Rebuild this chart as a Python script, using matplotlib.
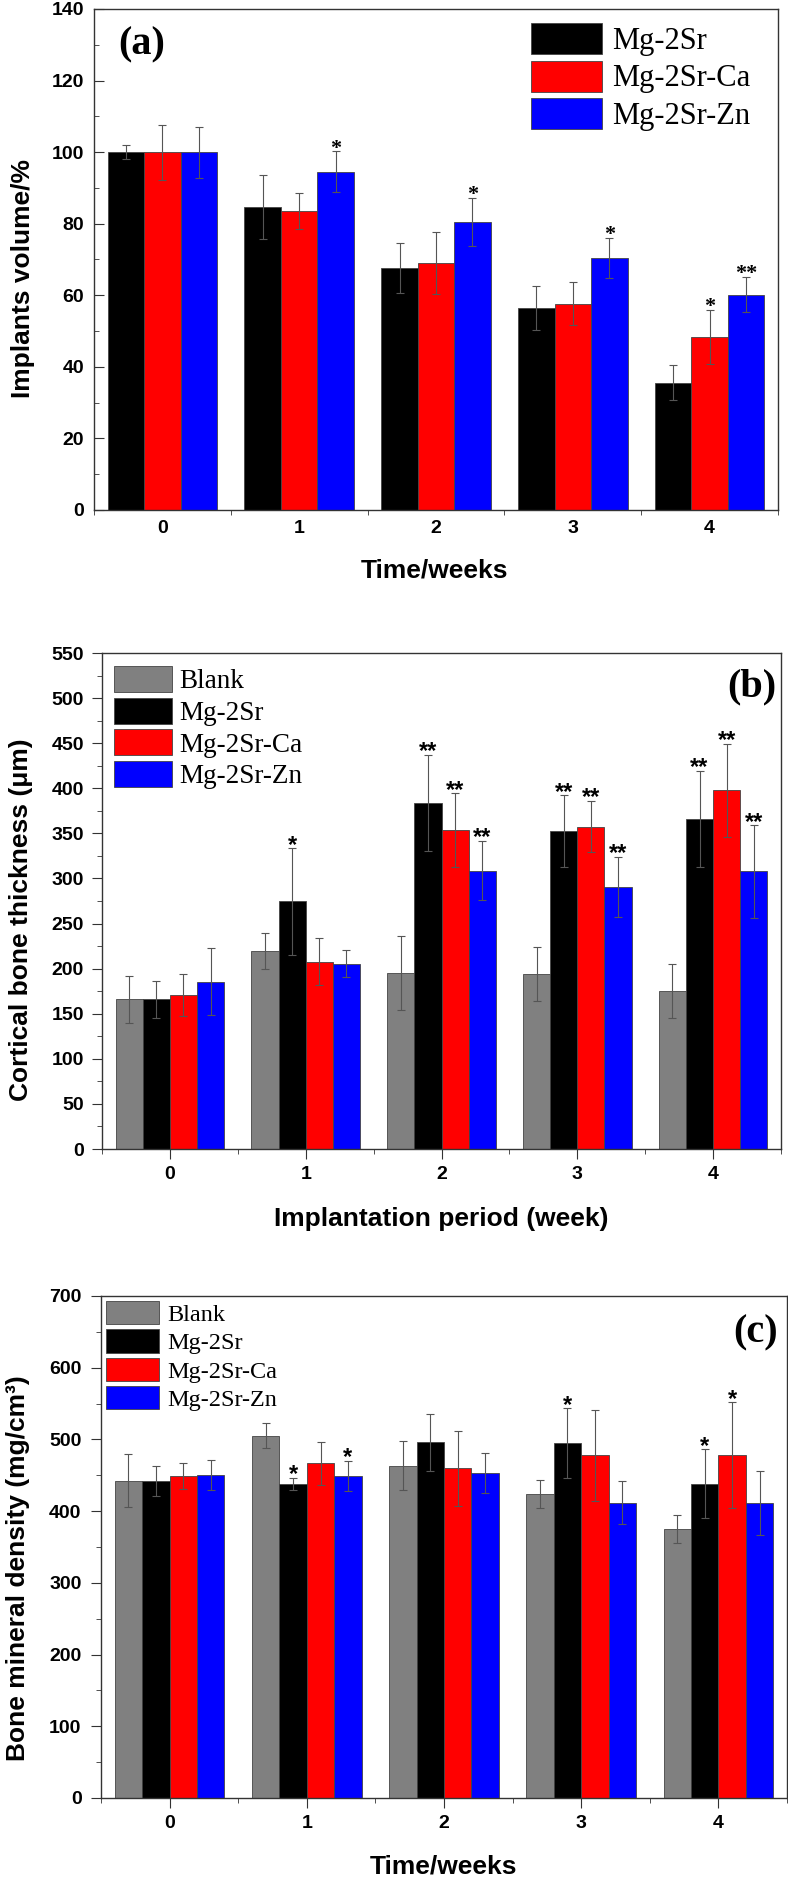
import numpy as np
import matplotlib
matplotlib.use('Agg')
import matplotlib.pyplot as plt
from matplotlib.ticker import MultipleLocator

weeks = ['0', '1', '2', '3', '4']

# (a) implant volume, %
vol_labels = ['Mg-2Sr', 'Mg-2Sr-Ca', 'Mg-2Sr-Zn']
vol_mg2sr = [100, 84.7, 67.5, 56.4, 35.5]
vol_mg2sr_err = [2, 9, 7, 6.1, 4.9]
vol_ca = [100, 83.6, 69, 57.6, 48.3]
vol_ca_err = [7.7, 5.1, 8.7, 6, 7.5]
vol_zn = [100, 94.5, 80.5, 70.4, 60.2]
vol_zn_err = [7.1, 5.7, 6.6, 5.7, 5]
vol_mg2sr_sig = ['', '', '', '', '']
vol_ca_sig = ['', '', '', '', '*']
vol_zn_sig = ['', '*', '*', '*', '**']

# (b) cortical bone thickness, um
grp_labels = ['Blank', 'Mg-2Sr', 'Mg-2Sr-Ca', 'Mg-2Sr-Zn']
ct_blank = [165.8, 219.7, 195.2, 193.9, 175.4]
ct_blank_err = [26, 20, 41, 30, 30]
ct_mg2sr = [165.8, 274.6, 383.8, 352.2, 366.2]
ct_mg2sr_err = [21, 59, 53.5, 40, 53]
ct_ca = [171, 207.9, 353.5, 357.5, 397.8]
ct_ca_err = [23, 26, 41, 28.5, 51.8]
ct_zn = [185.5, 205.3, 308.8, 290.8, 307.9]
ct_zn_err = [37, 15, 33, 33, 51.3]
ct_blank_sig = ['', '', '', '', '']
ct_mg2sr_sig = ['', '*', '**', '**', '**']
ct_ca_sig = ['', '', '**', '**', '**']
ct_zn_sig = ['', '', '**', '**', '**']

# (c) bone mineral density, mg/cm3
bmd_blank = [442.2, 505.4, 463.3, 424.1, 375.3]
bmd_blank_err = [37, 18, 34, 20, 20]
bmd_mg2sr = [442.2, 438, 495.8, 494.6, 438]
bmd_mg2sr_err = [21, 8.4, 40, 49, 48]
bmd_ca = [448.8, 466.9, 459.6, 477.7, 477.7]
bmd_ca_err = [18, 30, 52, 64, 74]
bmd_zn = [450, 449.4, 453, 412, 411.4]
bmd_zn_err = [21, 21, 28, 30, 44]
bmd_blank_sig = ['', '', '', '', '']
bmd_mg2sr_sig = ['', '*', '', '*', '*']
bmd_ca_sig = ['', '', '', '', '*']
bmd_zn_sig = ['', '*', '', '', '']

SANS = 'Liberation Sans'
SERIF = 'Liberation Serif'
plt.rcParams['font.family'] = [SANS, 'DejaVu Sans']
W, H = 788, 1878


def rect(l, r, t, b):
    return [l / W, (H - b) / H, (r - l) / W, (b - t) / H]


def bars(ax, vals, errs, sigs, colors, labels, star_font, star_size, star_off):
    n = len(vals)
    w = 0.8 / n
    x = np.arange(len(weeks))
    for i in range(n):
        xi = x + (i - (n - 1) / 2) * w
        ax.bar(xi, vals[i], w, yerr=errs[i], color=colors[i], edgecolor='#444444',
               linewidth=0.6, label=labels[i], zorder=2,
               error_kw=dict(ecolor='#555555', elinewidth=0.8, capsize=3, capthick=0.8))
        for xx, v, e, s in zip(xi, vals[i], errs[i], sigs[i]):
            if s:
                ax.annotate(s, (xx, v + e), xytext=(0, star_off), textcoords='offset points',
                            ha='center', va='baseline', fontsize=star_size,
                            family=star_font, fontweight='bold')
    ax.set_xticks(x)
    ax.set_xticklabels(weeks)
    ax.xaxis.set_minor_locator(MultipleLocator(0.5))
    ax.set_xlim(-0.5, 4.5)
    for sp in ax.spines.values():
        sp.set_color('#333333')
        sp.set_linewidth(1.0)
    for lab in ax.get_xticklabels() + ax.get_yticklabels():
        lab.set_fontweight('bold')


fig = plt.figure(figsize=(W / 100, H / 100), dpi=100)

# ---------- (a)
ax = fig.add_axes(rect(94, 778, 9, 510))
bars(ax, [vol_mg2sr, vol_ca, vol_zn], [vol_mg2sr_err, vol_ca_err, vol_zn_err],
     [vol_mg2sr_sig, vol_ca_sig, vol_zn_sig], ['black', '#ff0000', '#0000ff'],
     vol_labels, SERIF, 16, -1.5)
ax.set_ylim(0, 140)
ax.yaxis.set_major_locator(MultipleLocator(20))
ax.yaxis.set_minor_locator(MultipleLocator(10))
ax.tick_params(which='both', direction='in', labelsize=14, color='#333333')
ax.tick_params(which='major', length=7)
ax.tick_params(which='minor', length=3.5)
ax.tick_params(axis='x', which='minor', direction='out')
ax.tick_params(axis='x', pad=7)
ax.tick_params(axis='y', pad=7)
ax.set_ylabel('Implants volume/%', fontsize=19, fontweight='bold', va='center')
ax.yaxis.set_label_coords(-0.104, 0.463)
ax.set_xlabel('Time/weeks', fontsize=19, fontweight='bold', va='center')
ax.xaxis.set_label_coords(0.4985, -0.12)
ax.legend(loc='upper left', bbox_to_anchor=(0.639, 0.972), frameon=False,
          prop={'family': SERIF, 'size': 22}, handlelength=2.32, handleheight=1.18,
          labelspacing=0.16, handletextpad=0.33, borderpad=0, borderaxespad=0)
ax.text(0.036, 0.928, '(a)', transform=ax.transAxes, ha='left', va='center',
        family=SERIF, fontweight='bold', fontsize=29)

# ---------- (b)
ax = fig.add_axes(rect(102, 781, 653, 1149))
bars(ax, [ct_blank, ct_mg2sr, ct_ca, ct_zn],
     [ct_blank_err, ct_mg2sr_err, ct_ca_err, ct_zn_err],
     [ct_blank_sig, ct_mg2sr_sig, ct_ca_sig, ct_zn_sig],
     ['#808080', 'black', '#ff0000', '#0000ff'], grp_labels, SANS, 17, -2.5)
ax.set_ylim(0, 550)
ax.yaxis.set_major_locator(MultipleLocator(50))
ax.yaxis.set_minor_locator(MultipleLocator(25))
ax.tick_params(which='both', direction='out', labelsize=14, color='#333333')
ax.tick_params(which='major', length=7)
ax.tick_params(which='minor', length=3.5)
ax.tick_params(axis='x', pad=5)
ax.tick_params(axis='y', pad=6)
ax.set_ylabel('Cortical bone thickness (μm)', fontsize=19, fontweight='bold', va='center')
ax.yaxis.set_label_coords(-0.1186, 0.463)
ax.set_xlabel('Implantation period (week)', fontsize=19, fontweight='bold', va='center')
ax.xaxis.set_label_coords(0.499, -0.141)
ax.legend(loc='upper left', bbox_to_anchor=(0.017, 0.974), frameon=False,
          prop={'family': SERIF, 'size': 19.5}, handlelength=2.15, handleheight=1.1,
          labelspacing=0.13, handletextpad=0.27, borderpad=0, borderaxespad=0)
ax.text(0.9926, 0.931, '(b)', transform=ax.transAxes, ha='right', va='center',
        family=SERIF, fontweight='bold', fontsize=29)

# ---------- (c)
ax = fig.add_axes(rect(101, 787, 1296, 1798))
bars(ax, [bmd_blank, bmd_mg2sr, bmd_ca, bmd_zn],
     [bmd_blank_err, bmd_mg2sr_err, bmd_ca_err, bmd_zn_err],
     [bmd_blank_sig, bmd_mg2sr_sig, bmd_ca_sig, bmd_zn_sig],
     ['#808080', 'black', '#ff0000', '#0000ff'], grp_labels, SANS, 17, -2.5)
ax.set_ylim(0, 700)
ax.yaxis.set_major_locator(MultipleLocator(100))
ax.yaxis.set_minor_locator(MultipleLocator(50))
ax.tick_params(which='both', direction='out', labelsize=14, color='#333333')
ax.tick_params(which='major', length=7)
ax.tick_params(which='minor', length=3.5)
ax.tick_params(axis='x', pad=5)
ax.tick_params(axis='y', pad=7)
ax.set_ylabel('Bone mineral density (mg/cm³)', fontsize=19, fontweight='bold', va='center')
ax.yaxis.set_label_coords(-0.121, 0.457)
ax.set_xlabel('Time/weeks', fontsize=19, fontweight='bold', va='center')
ax.xaxis.set_label_coords(0.499, -0.137)
ax.legend(loc='upper left', bbox_to_anchor=(0.0066, 0.99), frameon=False,
          prop={'family': SERIF, 'size': 17.5}, handlelength=2.2, handleheight=1.1,
          labelspacing=0.14, handletextpad=0.33, borderpad=0, borderaxespad=0)
ax.text(0.987, 0.926, '(c)', transform=ax.transAxes, ha='right', va='center',
        family=SERIF, fontweight='bold', fontsize=29)

fig.savefig('out.png', dpi=100)
